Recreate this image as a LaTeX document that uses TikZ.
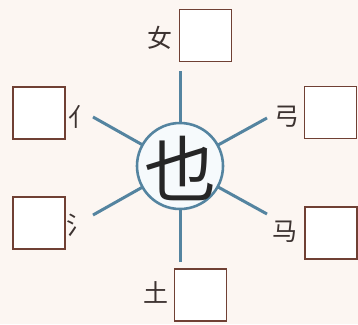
\documentclass[tikz,border=0pt]{standalone}
\usepackage{fontspec}
\newfontfamily\cjk{Noto Sans CJK SC}
\usetikzlibrary{backgrounds}
\definecolor{bgc}{RGB}{252,246,242}
\definecolor{linec}{RGB}{84,132,160}
\definecolor{boxc}{RGB}{112,64,52}
\definecolor{txtc}{RGB}{60,50,48}
\definecolor{circfill}{RGB}{246,250,252}
\begin{document}
\begin{tikzpicture}[x=1pt,y=-1pt,
  ansbox/.style={draw=boxc,line width=1.1pt,fill=white,minimum size=52pt,inner sep=0pt},
  lab/.style={font=\cjk\fontsize{25}{25}\selectfont,text=txtc,inner sep=0pt},
  spoke/.style={draw=linec,line width=3pt}]
\useasboundingbox (0,0) rectangle (358,324);
\node[circle,draw=linec,line width=2.6pt,fill=circfill,minimum size=86pt,inner sep=0pt] (c) at (180,166) {};
\node[font=\cjk\fontsize{72}{72}\selectfont,text=black!85,inner sep=0pt] (zi) at (180,168) {也};
% answer boxes
\node[ansbox] (bt) at (205.5,35.5) {};
\node[ansbox] (btl) at (39,113) {};
\node[ansbox] (btr) at (330.5,112.5) {};
\node[ansbox] (bbl) at (39,223) {};
\node[ansbox] (bbr) at (331,233) {};
\node[ansbox] (bb) at (200.5,295) {};
% labels
\node[lab] (lt) at (160,38) {女};
\node[lab] (ltl) at (81,117) {亻};
\node[lab] (ltr) at (287,117) {弓};
\node[lab] (lbl) at (79,225) {氵};
\node[lab] (lbr) at (285,232) {马};
\node[lab] (lb) at (156,292) {土};
% spoke ends
\coordinate (et) at (180,71);
\coordinate (etl) at (93,117);
\coordinate (etr) at (267,118);
\coordinate (ebl) at (93,215);
\coordinate (ebr) at (267,214);
\coordinate (eb) at (180,262);
\begin{scope}[on background layer]
\fill[bgc] (0,0) rectangle (358,324);
\draw[spoke] (et) -- (c.north);
\draw[spoke] (etl) -- (c.center);
\draw[spoke] (etr) -- (c.center);
\draw[spoke] (ebl) -- (c.center);
\draw[spoke] (ebr) -- (c.center);
\draw[spoke] (eb) -- (c.south);
\end{scope}
\end{tikzpicture}
\end{document}
